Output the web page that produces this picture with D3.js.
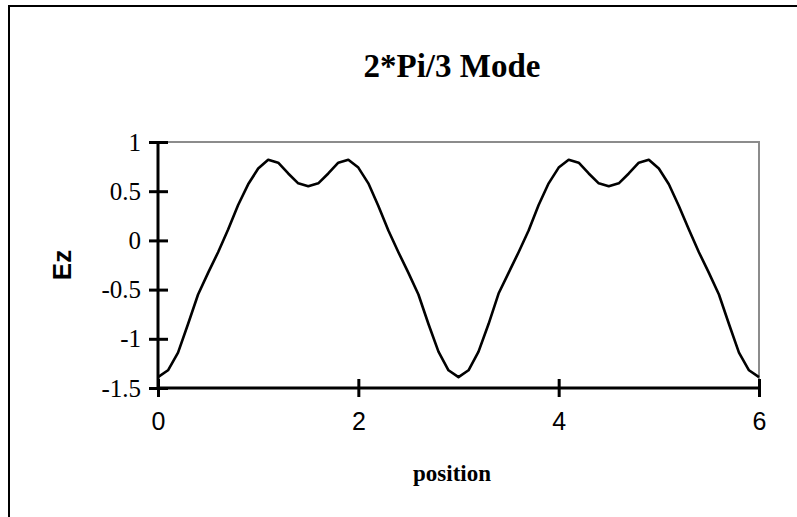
<!DOCTYPE html>
<meta charset="utf-8">
<style>
    body {
        margin: 0;
        background: white;
    }

    svg {
        display: block;
    }

    .title, .xlabel {
        font-family: "Liberation Serif", "Times New Roman", serif;
        font-weight: bold;
    }

    .ylabel {
        font-family: "Liberation Sans", Arial, sans-serif;
        font-weight: bold;
    }

    .y-axis text {
        font-family: "Liberation Serif", "Times New Roman", serif;
    }

    .x-axis text {
        font-family: "Liberation Sans", Arial, sans-serif;
    }
</style>

<body>
    <script src="https://d3js.org/d3.v7.min.js"></script>
    <script>

        // data
        var positions = [0, 0.1, 0.2, 0.3, 0.4, 0.5, 0.6, 0.7, 0.8, 0.9,
            1, 1.1, 1.2, 1.3, 1.4, 1.5, 1.6, 1.7, 1.8, 1.9,
            2, 2.1, 2.2, 2.3, 2.4, 2.5, 2.6, 2.7, 2.8, 2.9,
            3, 3.1, 3.2, 3.3, 3.4, 3.5, 3.6, 3.7, 3.8, 3.9,
            4, 4.1, 4.2, 4.3, 4.4, 4.5, 4.6, 4.7, 4.8, 4.9,
            5, 5.1, 5.2, 5.3, 5.4, 5.5, 5.6, 5.7, 5.8, 5.9, 6];

        var ezValues = [-1.39, -1.32, -1.14, -0.85, -0.55, -0.33, -0.12, 0.11, 0.36, 0.57,
            0.73, 0.82, 0.79, 0.68, 0.58, 0.55, 0.58, 0.68, 0.79, 0.82,
            0.74, 0.58, 0.35, 0.10, -0.12, -0.33, -0.55, -0.85, -1.13, -1.32,
            -1.39, -1.32, -1.13, -0.85, -0.54, -0.33, -0.12, 0.10, 0.36, 0.58,
            0.74, 0.82, 0.79, 0.68, 0.58, 0.55, 0.58, 0.68, 0.79, 0.82,
            0.73, 0.57, 0.35, 0.11, -0.12, -0.33, -0.55, -0.85, -1.14, -1.32, -1.39];

        var xTicks = [0, 2, 4, 6];
        var yTicks = [1, 0.5, 0, -0.5, -1, -1.5];

        var width = 797,
            height = 517;

        var plot = { left: 158, right: 759, top: 142, bottom: 388 };

        var svg = d3.select("body")
            .append("svg")
            .attr("width", width)
            .attr("height", height);

        // outer frame (only top and left edges show)
        svg.append("rect")
            .attr("x", 9)
            .attr("y", 6)
            .attr("width", width + 20)
            .attr("height", height + 20)
            .attr("fill", "white")
            .attr("stroke", "black")
            .attr("stroke-width", 2);

        var x = d3.scaleLinear()
            .domain([0, 6])
            .range([plot.left, plot.right]);

        var y = d3.scaleLinear()
            .domain([-1.5, 1])
            .range([plot.bottom, plot.top]);

        // plot area border, grey
        svg.append("path")
            .attr("d", "M" + x(0) + "," + y(1) + "H" + x(6) + "V" + y(-1.5))
            .attr("fill", "none")
            .attr("stroke", "#8c8c8c")
            .attr("stroke-width", 2);

        var line = d3.line()
            .x(function (d) { return x(d[0]); })
            .y(function (d) { return y(d[1]); });

        var points = positions.map(function (p, i) { return [p, ezValues[i]]; });

        svg.append("path")
            .datum(points)
            .attr("d", line)
            .attr("fill", "none")
            .attr("stroke", "black")
            .attr("stroke-width", 2.6)
            .attr("stroke-linejoin", "round");

        /* ------- AXES -------*/

        var yAxis = svg.append("g")
            .attr("class", "y-axis")
            .attr("transform", "translate(" + plot.left + ",0)")
            .call(d3.axisLeft(y)
                .tickValues(yTicks)
                .tickSize(9)
                .tickPadding(8)
                .tickFormat(function (d) { return d; }));

        yAxis.selectAll(".tick line")
            .attr("x1", 10)
            .attr("stroke-width", 3);

        var xAxis = svg.append("g")
            .attr("class", "x-axis")
            .attr("transform", "translate(0," + plot.bottom + ")")
            .call(d3.axisBottom(x)
                .tickValues(xTicks)
                .tickSize(9)
                .tickPadding(15)
                .tickFormat(d3.format("d")));

        xAxis.selectAll(".tick line")
            .attr("y1", -9)
            .attr("stroke-width", 3);

        svg.selectAll(".domain")
            .attr("stroke-width", 3)
            .attr("d", function () {
                return d3.select(this.parentNode).classed("y-axis")
                    ? "M0," + y(1) + "V" + y(-1.5)
                    : "M" + x(0) + ",0H" + x(6);
            });

        svg.selectAll(".tick text")
            .attr("fill", "black")
            .style("font-size", "25px");

        /* ------- LABELS -------*/

        svg.append("text")
            .attr("class", "title")
            .attr("x", 452)
            .attr("y", 77)
            .attr("text-anchor", "middle")
            .style("font-size", "33px")
            .text("2*Pi/3 Mode");

        svg.append("text")
            .attr("class", "xlabel")
            .attr("x", 452)
            .attr("y", 481)
            .attr("text-anchor", "middle")
            .style("font-size", "23px")
            .text("position");

        svg.append("text")
            .attr("class", "ylabel")
            .attr("transform", "translate(71," + y(-0.25) + ") rotate(-90)")
            .attr("text-anchor", "middle")
            .style("font-size", "26px")
            .text("Ez");

    </script>
</body>
